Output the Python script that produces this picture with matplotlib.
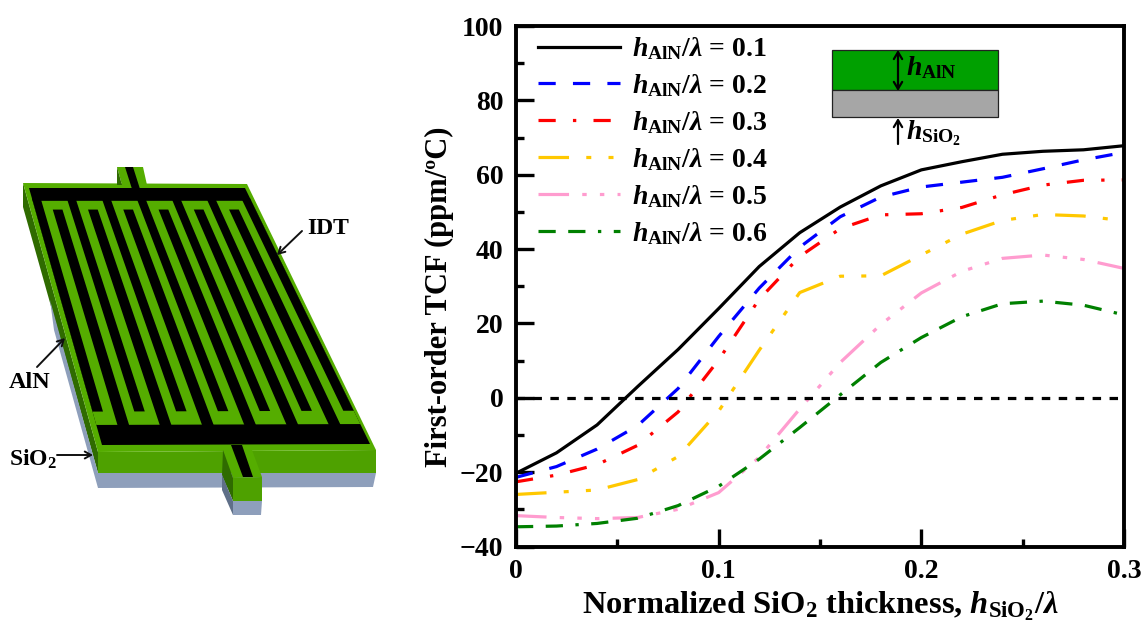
import numpy as np
import matplotlib
matplotlib.use('Agg')
import matplotlib.pyplot as plt
from matplotlib.patches import Polygon, Rectangle
from matplotlib.ticker import MultipleLocator, FuncFormatter

plt.rcParams['font.family'] = ['Liberation Serif', 'DejaVu Serif']
plt.rcParams['font.weight'] = 'bold'
plt.rcParams['axes.labelweight'] = 'bold'
plt.rcParams['mathtext.fontset'] = 'custom'
plt.rcParams['mathtext.rm'] = 'Liberation Serif:bold'
plt.rcParams['mathtext.it'] = 'Liberation Serif:italic:bold'
plt.rcParams['mathtext.bf'] = 'Liberation Serif:bold'
plt.rcParams['lines.scale_dashes'] = False

# data
h_sio2 = [0, .02, .04, .06, .08, .10, .12, .14, .16, .18, .20, .22, .24, .26, .28, .30]
tcf_01 = [-20.3, -14.8, -7.3, 3, 13, 24, 35.3, 44.4, 51.3, 57, 61.3, 63.5, 65.5, 66.3, 66.7, 67.8]
tcf_02 = [-21.4, -18.5, -13.8, -7.5, 2.5, 16.5, 29.5, 40.5, 48.7, 54, 56.7, 58, 59.3, 61.6, 64, 66]
tcf_03 = [-22.6, -20.8, -18, -12.8, -3.8, 10.2, 26.5, 38, 45.5, 49.2, 49.5, 51.2, 54.6, 57.2, 58.5, 58.6]
tcf_04 = [-26, -25.4, -24.8, -22, -15.8, -3.6, 12.8, 28.3, 32.7, 32.8, 38.4, 44, 47.7, 49.3, 48.9, 47.6]
tcf_05 = [-31.7, -32.2, -32.5, -32.2, -30, -25.5, -16, -3, 9.5, 19.7, 28.2, 34, 37.5, 38.4, 37.2, 34.8]
tcf_06 = [-34.7, -34.5, -33.8, -32.4, -29, -23.8, -16.5, -8, 0.8, 9.5, 16.2, 21.8, 25.3, 26, 24.9, 22.3]
series = [tcf_01, tcf_02, tcf_03, tcf_04, tcf_05, tcf_06]
ratios = ['0.1', '0.2', '0.3', '0.4', '0.5', '0.6']
colors = ['black', '#0000ff', '#ff0000', '#ffc800', '#ff9ccf', '#008000']
# dash patterns in points
d = 12.4
g = 12.4
styles = ['-', (0, (d, g)), (0, (d, g, 2.4, g)), (0, (22, g, 3.6, g, 3.6, g)),
          (0, (22, 9.5, 3.2, 9.5, 3.2, 9.5, 3.2, 9.5)), (0, (d, 9, d, 9, 2.4, 9))]

W, H = 1145, 627
L, R, T, B = 516, 1124, 26, 546.5

fig = plt.figure(figsize=(W / 100, H / 100), dpi=100)
ax = fig.add_axes([L / W, 1 - B / H, (R - L) / W, (B - T) / H])

for y, c, s, r in zip(series, colors, styles, ratios):
    ax.plot(h_sio2, y, color=c, ls=s, lw=2.3,
            label=r'$h_{\mathrm{AlN}}/\lambda$ = ' + r)
ax.plot([0, .3], [0, 0], color='black', ls=(0, (6.1, 6.1)), lw=2.3)

ax.set_xlim(0, .3)
ax.set_ylim(-40, 100)
ax.xaxis.set_major_locator(MultipleLocator(.1))
ax.xaxis.set_minor_locator(MultipleLocator(.05))
ax.yaxis.set_major_locator(MultipleLocator(20))
ax.yaxis.set_minor_locator(MultipleLocator(10))
ax.xaxis.set_major_formatter(FuncFormatter(lambda v, p: '0' if abs(v) < 1e-9 else '%.1f' % v))
ax.tick_params(which='major', direction='in', length=13, width=2.4, labelsize=20, pad=9)
ax.tick_params(which='minor', direction='in', length=6, width=2.4)
for s in ax.spines.values():
    s.set_linewidth(2.8)
ax.set_xlabel(r'Normalized SiO$_{2}$ thickness, $h_{\mathrm{SiO_2}}/\lambda$', fontsize=23.4, labelpad=4)
ax.set_ylabel('First-order TCF (ppm/ºC)', fontsize=22, labelpad=4)
ax.yaxis.label.set_y(.479)

ax.legend(loc='upper left', bbox_to_anchor=(0.037, .982), frameon=False, fontsize=20,
          handlelength=2.92, handletextpad=.45, labelspacing=.36, borderaxespad=0, borderpad=0)

# overlay in pixel coordinates for the schematic parts
ov = fig.add_axes([0, 0, 1, 1], facecolor='none')
ov.set_xlim(0, W)
ov.set_ylim(H, 0)
ov.axis('off')

# layer stack inset
ov.add_patch(Rectangle((832, 50), 166, 40, fc='#00a000', ec='#222222', lw=.9))
ov.add_patch(Rectangle((832, 90), 166, 27, fc='#a6a6a6', ec='#222222', lw=.9))
ov.annotate('', xy=(898, 50), xytext=(898, 91), arrowprops=dict(arrowstyle='<->,head_width=.3,head_length=.5', color='black', lw=1.6, shrinkA=0, shrinkB=0))
ov.annotate('', xy=(898, 118), xytext=(898, 144), arrowprops=dict(arrowstyle='->,head_width=.3,head_length=.5', color='black', lw=1.6, shrinkA=0, shrinkB=0))
ov.text(906, 68, r'$h_{\mathrm{AlN}}$', fontsize=20, va='center', ha='left')
ov.text(906, 133, r'$h_{\mathrm{SiO_2}}$', fontsize=20, va='center', ha='left')


# device drawing, corners in px
def poly(pts, c, z=1):
    ov.add_patch(Polygon(pts, closed=True, fc=c, ec='none', zorder=z))


top_green = '#55ad00'
front_green = '#4ea100'
dark_green = '#2f6b00'
steel = '#8e9fbb'

poly([(23, 183), (23, 207), (98, 473), (98, 452)], dark_green, 1)
poly([(50, 300), (98, 473), (98, 488), (54, 330)], steel, 1)
poly([(98, 452), (376, 450), (376, 473), (98, 473)], front_green, 1)
poly([(98, 473), (376, 473), (373, 487), (98, 488)], steel, 1)
poly([(23, 183), (247, 184), (376, 450), (98, 452)], top_green, 2)
# tab at the back
poly([(117, 167), (143, 167), (147, 185), (122, 185)], top_green, 2)
poly([(117, 167), (122, 185), (117, 185)], dark_green, 2)
# tab at the front
poly([(223, 450), (252, 450), (262, 477), (233, 478)], top_green, 3)
poly([(223, 450), (233, 478), (233, 501), (222, 475)], dark_green, 3)
poly([(233, 478), (262, 477), (262, 501), (233, 501)], front_green, 3)
poly([(233, 501), (262, 501), (261, 515), (233, 515)], steel, 3)
poly([(222, 475), (233, 501), (233, 515), (222, 490)], '#5f6f88', 3)
poly([(231, 445), (242, 445), (253, 477), (243, 477)], 'black', 4)
poly([(125, 167), (133, 167), (140, 189), (132, 189)], 'black', 4)

# electrode pattern, placed with a bilinear map of the black area
c_tl, c_tr, c_br, c_bl = map(np.array, [(29, 188), (245, 188), (370, 444), (102, 445)])


def quad(u0, u1, v0, v1):
    def m(u, v):
        return (1 - v) * ((1 - u) * c_tl + u * c_tr) + v * ((1 - u) * c_bl + u * c_br)
    return [m(u0, v0), m(u1, v0), m(u1, v1), m(u0, v1)]


poly(quad(0, 1, 0, 1), 'black', 5)
poly(quad(0, 1, .05, .922), top_green, 6)
for i in range(7):
    u = .16 * i
    poly(quad(u, u + .04, .04, .87), 'black', 7)
for i in range(6):
    u = .08 + .16 * i
    poly(quad(u, u + .044, .084, .93), 'black', 7)

ov.text(307, 229, 'IDT', fontsize=17, va='center', ha='left')
ov.text(9, 383, 'AlN', fontsize=17.5, va='center', ha='left')
ov.text(9, 459, r'SiO$_{2}$', fontsize=17, va='center', ha='left')
for a, b in [((302, 231), (277, 255)), ((37, 367), (65, 338)), ((57, 455), (93, 455))]:
    ov.annotate('', xy=b, xytext=a, zorder=9,
                arrowprops=dict(arrowstyle='->,head_width=.25,head_length=.45', color='#111111', lw=1.4, shrinkA=0, shrinkB=0))

fig.savefig('out.png', dpi=100)
